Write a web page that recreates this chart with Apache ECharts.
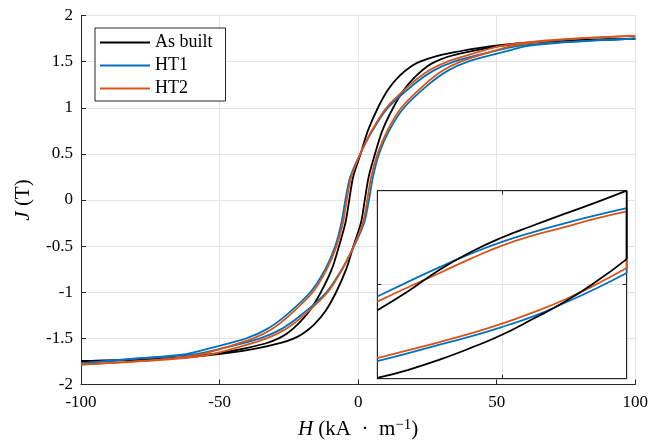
<!DOCTYPE html>
<html><head><meta charset="utf-8">
<script src="https://cdn.jsdelivr.net/npm/echarts@6/dist/echarts.min.js"></script>
<style>html,body{margin:0;padding:0;background:#fff}#c{width:651px;height:445px}</style>
</head><body><div id="c"></div>
<script>
const seriesNames = ['As built', 'HT1', 'HT2'];
const seriesColors = ['#000000', '#0072BD', '#D95319'];
const xTicks = [-100, -50, 0, 50, 100];
const yTicks = [-2, -1.5, -1, -0.5, 0, 0.5, 1, 1.5, 2];

// As built: descending branch (H from +100 to -100) and ascending branch
const asBuiltDescH = [100, 77.3, 58.8, 44.0, 34.4, 27.1, 22.3, 19.2, 15.1, 10.9, 7.15, 3.5, 0.9, -1.8, -3.2, -4.6, -6.9, -9.5, -13.45, -17.5, -21.9, -25.8, -28.7, -32.9, -39.6, -48.0, -61.2, -78.7, -100];
const asBuiltDescJ = [1.748, 1.73, 1.7, 1.65, 1.6, 1.55, 1.5, 1.45, 1.35, 1.2, 1.0, 0.75, 0.5, 0.25, 0, -0.25, -0.5, -0.75, -1.0, -1.2, -1.35, -1.45, -1.5, -1.55, -1.6, -1.65, -1.7, -1.73, -1.745];
const asBuiltAscH = [-100, -78.1, -59.6, -44.8, -35.2, -27.9, -23.1, -20.0, -15.9, -11.7, -7.95, -4.3, -1.7, 1.0, 2.4, 3.8, 6.1, 8.7, 12.65, 16.7, 21.1, 25.0, 27.9, 32.1, 38.8, 47.2, 60.4, 77.9, 100];
const asBuiltAscJ = [-1.745, -1.73, -1.7, -1.65, -1.6, -1.55, -1.5, -1.45, -1.35, -1.2, -1.0, -0.75, -0.5, -0.25, 0, 0.25, 0.5, 0.75, 1.0, 1.2, 1.35, 1.45, 1.5, 1.55, 1.6, 1.65, 1.7, 1.73, 1.748];

// HT1
const ht1DescH = [100, 78.65, 57.85, 47.35, 34.65, 27.05, 19.95, 10.75, 5.15, 0.75, -2.85, -4.6, -6.05, -8.25, -11.85, -17.25, -26.05, -32.95, -40.35, -52.65, -62.15, -81.35, -100];
const ht1DescJ = [1.75, 1.72, 1.67, 1.6, 1.5, 1.4, 1.25, 1.0, 0.75, 0.5, 0.25, 0, -0.25, -0.5, -0.75, -1.0, -1.25, -1.4, -1.5, -1.6, -1.67, -1.72, -1.77];
const ht1AscH = [-100, -79.35, -58.55, -48.05, -35.35, -27.75, -20.65, -11.45, -5.85, -1.45, 2.15, 3.9, 5.35, 7.55, 11.15, 16.55, 25.35, 32.25, 39.65, 51.95, 61.45, 80.65, 100];
const ht1AscJ = [-1.77, -1.72, -1.67, -1.6, -1.5, -1.4, -1.25, -1.0, -0.75, -0.5, -0.25, 0, 0.25, 0.5, 0.75, 1.0, 1.25, 1.4, 1.5, 1.6, 1.67, 1.72, 1.75];

// HT2
const ht2DescH = [100, 83.8, 64.1, 51.7, 42.9, 32.2, 25.4, 18.8, 10.2, 4.9, 0.8, -2.5, -4.1, -5.5, -7.8, -11.3, -16.4, -24.8, -31.2, -37.8, -48.1, -56.3, -67.9, -86.2, -100];
const ht2DescJ = [1.78, 1.76, 1.72, 1.67, 1.6, 1.5, 1.4, 1.25, 1.0, 0.75, 0.5, 0.25, 0, -0.25, -0.5, -0.75, -1.0, -1.25, -1.4, -1.5, -1.6, -1.67, -1.72, -1.76, -1.785];
const ht2AscH = [-100, -84.6, -64.9, -52.5, -43.7, -33.0, -26.2, -19.6, -11.0, -5.7, -1.6, 1.7, 3.3, 4.7, 7.0, 10.5, 15.6, 24.0, 30.4, 37.0, 47.3, 55.5, 67.1, 85.4, 100];
const ht2AscJ = [-1.785, -1.76, -1.72, -1.67, -1.6, -1.5, -1.4, -1.25, -1.0, -0.75, -0.5, -0.25, 0, 0.25, 0.5, 0.75, 1.0, 1.25, 1.4, 1.5, 1.6, 1.67, 1.72, 1.76, 1.78];

// Inset (loop tip detail): H values and the two branches of each loop
const insetH = [80, 82.5, 85, 87.5, 90, 92.5, 95, 97.5, 100];
const insetTicksH = [80, 90, 100];
const insetTicksJ = [1.68, 1.72, 1.76];
const asBuiltInsetLow = [1.6803, 1.6838, 1.6881, 1.6931, 1.6987, 1.7055, 1.7126, 1.7211, 1.7309];
const asBuiltInsetUp  = [1.7091, 1.7173, 1.7264, 1.7339, 1.7401, 1.7452, 1.7501, 1.7549, 1.7600];
const ht1InsetLow = [1.6875, 1.6909, 1.6945, 1.6980, 1.7020, 1.7065, 1.7122, 1.7183, 1.7250];
const ht1InsetUp  = [1.7150, 1.7213, 1.7275, 1.7332, 1.7382, 1.7424, 1.7461, 1.7495, 1.7526];
const ht2InsetLow = [1.6888, 1.6922, 1.6956, 1.6993, 1.7034, 1.7082, 1.7136, 1.7200, 1.7271];
const ht2InsetUp  = [1.7128, 1.7190, 1.7250, 1.7311, 1.7366, 1.7410, 1.7445, 1.7481, 1.7512];

const FONT = 'Liberation Serif';
const AX = '#262626';
const LW = 1.8;
const zip = (a, b) => a.map((v, i) => [v, b[i]]);
const sortX = d => d.slice().sort((p, q) => p[0] - q[0]);

function branch(name, color, data, xi, z, smooth) {
  return {
    type: 'line', name, data, xAxisIndex: xi, yAxisIndex: xi, z,
    symbol: 'none', showSymbol: false, smooth: smooth,
    lineStyle: { color, width: LW }, itemStyle: { color }, animation: false, clip: true
  };
}

const mainData = [
  [asBuiltDescH, asBuiltDescJ, asBuiltAscH, asBuiltAscJ],
  [ht1DescH, ht1DescJ, ht1AscH, ht1AscJ],
  [ht2DescH, ht2DescJ, ht2AscH, ht2AscJ]
];
const insetData = [
  [asBuiltInsetLow, asBuiltInsetUp],
  [ht1InsetLow, ht1InsetUp],
  [ht2InsetLow, ht2InsetUp]
];

const series = [];
mainData.forEach((d, k) => {
  series.push(branch(seriesNames[k], seriesColors[k], sortX(zip(d[0], d[1])), 0, 2, 0.3));
  series.push(branch(seriesNames[k], seriesColors[k], sortX(zip(d[2], d[3])), 0, 2, 0.3));
});
[1, 2, 0].forEach(k => {
  const low = insetData[k][0], up = insetData[k][1];
  const n = insetH.length - 1;
  series.push(branch(seriesNames[k], seriesColors[k], zip(insetH, low), 1, 12, 0.5));
  series.push(branch(seriesNames[k], seriesColors[k], zip(insetH, up), 1, 12, 0.5));
  series.push(branch(seriesNames[k], seriesColors[k], [[insetH[n], low[n]], [insetH[n], up[n]]], 1, 12, false));
});

const tickLabel = { fontFamily: FONT, fontSize: 17, color: '#000' };
const insetAxisCommon = {
  gridIndex: 1, axisLabel: { show: false },
  axisLine: { show: true, lineStyle: { color: AX, width: 1 } },
  axisTick: { show: true, inside: true, length: 4, lineStyle: { color: AX } },
  z: 11
};
const nameRich = {
  i: { fontFamily: FONT, fontSize: 21, fontStyle: 'italic', color: '#000', lineHeight: 24 },
  n: { fontFamily: FONT, fontSize: 21, color: '#000', lineHeight: 24 },
  sup: { fontFamily: FONT, fontSize: 15, color: '#000', lineHeight: 15, verticalAlign: 'top' }
};

const option = {
  animation: false,
  backgroundColor: '#fff',
  grid: [
    { left: 81, right: 15, top: 15.5, bottom: 60, z: 0 },
    { left: 377.3, top: 190.7, width: 249.4, height: 188, show: true, backgroundColor: '#fff', borderColor: AX, borderWidth: 1, z: 10 }
  ],
  legend: {
    data: seriesNames, orient: 'vertical', left: 95, top: 28,
    icon: 'rect', itemWidth: 50, itemHeight: 2, itemGap: 4,
    padding: [5, 13, 3, 5],
    backgroundColor: '#fff', borderColor: AX, borderWidth: 1, borderRadius: 0,
    textStyle: { fontFamily: FONT, fontSize: 18, color: '#000', lineHeight: 19 },
    selectedMode: false, z: 20
  },
  xAxis: [
    {
      type: 'value', gridIndex: 0,
      min: xTicks[0], max: xTicks[xTicks.length - 1], interval: xTicks[1] - xTicks[0],
      axisLine: { show: true, onZero: false, lineStyle: { color: AX, width: 1 } },
      axisTick: { show: true, inside: true, length: 5, lineStyle: { color: AX } },
      axisLabel: Object.assign({ margin: 10 }, tickLabel),
      splitLine: { show: true, lineStyle: { color: '#e3e3e3', width: 1 } },
      name: '{i|H}{n| (kA  ·  m}{sup|−1}{n|)}', nameLocation: 'middle', nameGap: 33,
      nameTextStyle: { fontFamily: FONT, fontSize: 21, color: '#000', rich: nameRich }
    },
    Object.assign({
      type: 'value', min: insetTicksH[0], max: insetTicksH[2], interval: insetTicksH[1] - insetTicksH[0],
      position: 'bottom', splitLine: { show: true, lineStyle: { color: '#e3e3e3' } }
    }, insetAxisCommon),
    Object.assign({
      type: 'value', min: insetTicksH[0], max: insetTicksH[2], interval: insetTicksH[1] - insetTicksH[0],
      position: 'top', splitLine: { show: false }
    }, insetAxisCommon)
  ],
  yAxis: [
    {
      type: 'value', gridIndex: 0,
      min: yTicks[0], max: yTicks[yTicks.length - 1], interval: yTicks[1] - yTicks[0],
      axisLine: { show: true, onZero: false, lineStyle: { color: AX, width: 1 } },
      axisTick: { show: true, inside: true, length: 5, lineStyle: { color: AX } },
      axisLabel: Object.assign({ margin: 8 }, tickLabel),
      splitLine: { show: true, lineStyle: { color: '#e3e3e3', width: 1 } },
      name: '{i|J}{n| (T)}', nameLocation: 'middle', nameGap: 46,
      nameTextStyle: { fontFamily: FONT, fontSize: 20, color: '#000', rich: nameRich }
    },
    Object.assign({
      type: 'value', min: insetTicksJ[0], max: insetTicksJ[2], interval: insetTicksJ[1] - insetTicksJ[0],
      position: 'left', splitLine: { show: true, lineStyle: { color: '#e3e3e3' } }
    }, insetAxisCommon),
    Object.assign({
      type: 'value', min: insetTicksJ[0], max: insetTicksJ[2], interval: insetTicksJ[1] - insetTicksJ[0],
      position: 'right', splitLine: { show: false }
    }, insetAxisCommon)
  ],
  series
};

const chart = echarts.init(document.getElementById('c'), null, { renderer: 'canvas' });
chart.setOption(option);
</script>
</body></html>
